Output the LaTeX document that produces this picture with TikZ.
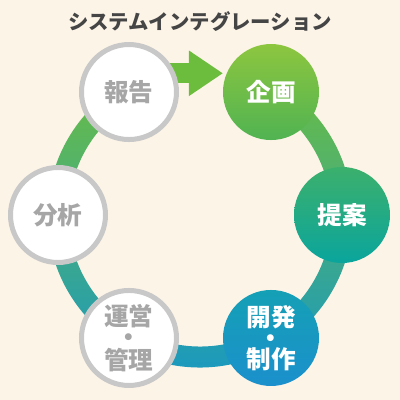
\documentclass[tikz,border=0pt]{standalone}
\usepackage{fontspec}
\setmainfont{Noto Sans CJK JP}
\usetikzlibrary{arrows.meta}
\definecolor{bgcream}{HTML}{FDF4E8}
\definecolor{titlegray}{HTML}{454545}
\definecolor{ringgray}{HTML}{C8C8C8}
\definecolor{labelgray}{HTML}{A6A6A6}
\definecolor{arrowgreen}{HTML}{6CBD3D}
\pgfdeclarelayer{bg}
\pgfsetlayers{bg,main}

\begin{document}
\begin{tikzpicture}[x=0.25mm, y=0.25mm,
    every node/.style={circle, minimum size=24mm, inner sep=0pt, outer sep=0pt, align=center, font=\bfseries\fontsize{17.5}{15}\selectfont},
    grayitem/.style={fill=white, draw=ringgray, line width=1.25mm, minimum size=23.75mm, outer sep=.625mm, text=labelgray},
    colitem/.style={text=white}]
    \useasboundingbox (-200,-185) rectangle (200,215);
    \shade[top color={rgb,255:red,106;green,189;blue,69}, middle color={rgb,255:red,31;green,169;blue,138}, bottom color={rgb,255:red,22;green,151;blue,198}]
        (60:38.125mm) arc[start angle=60, end angle=-240, radius=38.125mm] -- (120:32.875mm) arc[start angle=-240, end angle=60, radius=32.875mm] -- cycle;
    \node[rectangle, minimum size=0pt, text=titlegray, font=\bfseries\fontsize{14.5}{16}\selectfont] (title) at (0,193) {システムインテグレーション};
    \node[colitem, top color={rgb,255:red,141;green,198;blue,63}, bottom color={rgb,255:red,80;green,179;blue,82}] (plan) at (60:35.5mm) {企画};
    \node[colitem, top color={rgb,255:red,60;green,176;blue,108}, bottom color={rgb,255:red,10;green,165;blue,157}] (proposal) at (0:35.5mm) {提案};
    \node[colitem, top color={rgb,255:red,21;green,160;blue,182}, bottom color={rgb,255:red,27;green,144;blue,204}] (develop) at (-60:35.5mm) {開発\\・\\制作};
    \node[grayitem] (operate) at (-120:35.5mm) {運営\\・\\管理};
    \node[grayitem] (analyze) at (180:35.5mm) {分析};
    \node[grayitem] (report) at (120:35.5mm) {報告};
    \begin{pgfonlayer}{bg}
        \fill[bgcream] (-200,-185) rectangle (200,215);
        \draw[arrowgreen, line width=5mm, -{Triangle[length=8.5mm, width=10.75mm]}] ([xshift=-6mm]report.22) -- (report.22 -| plan.west);
    \end{pgfonlayer}
\end{tikzpicture}
\end{document}
